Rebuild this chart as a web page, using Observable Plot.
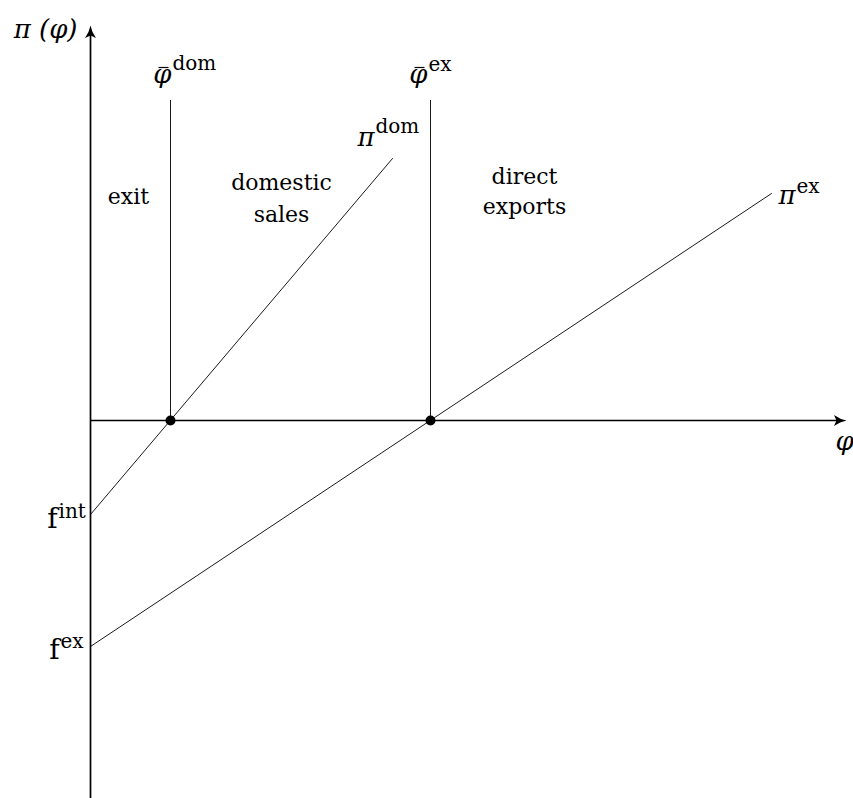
<!DOCTYPE html>
<html>
<head>
<meta charset="utf-8">
<script src="https://cdn.jsdelivr.net/npm/d3@7"></script>
<script src="https://cdn.jsdelivr.net/npm/@observablehq/plot@0.6"></script>
<style>
  html, body { margin: 0; padding: 0; background: #fff; }
  #chart svg { display: block; }
</style>
</head>
<body>
<div id="chart"></div>
<script>
// ---- data (abstract diagram units) ----
const phiDom = 4;          // domestic cutoff
const phiEx = 17;          // export cutoff
const fInt = -4.7;         // intercept of pi^dom
const fEx = -11.3;         // intercept of pi^ex
const cutoffTop = 16;      // top of the cutoff lines
const piDomLine = [{phi: 0, pi: -4.7}, {phi: 15.1, pi: 13.1}];
const piExLine = [{phi: 0, pi: -11.3}, {phi: 34.05, pi: 11.35}];
const xAxisRange = [0, 37.8];
const yAxisRange = [-18.9, 19.75];
const cutoffs = [phiDom, phiEx];
const regionLabels = ["exit", "domestic\nsales", "direct\nexports"];
const yAxisLabel = "π (φ)";
const xAxisLabel = "φ";

// ---- drawing ----
const serif = "DejaVu Serif";

// arrow head with tip at origin, pointing up
const arrowHead = {
  draw(ctx) {
    ctx.moveTo(0, 0);
    ctx.quadraticCurveTo(1.2, 6.5, 5.5, 12.5);
    ctx.lineTo(0, 10);
    ctx.lineTo(-5.5, 12.5);
    ctx.quadraticCurveTo(-1.2, 6.5, 0, 0);
    ctx.closePath();
  }
};
// short horizontal bar (accent over phi)
const barSymbol = {
  draw(ctx) {
    ctx.moveTo(-5, -0.6);
    ctx.lineTo(5, -0.6);
    ctx.lineTo(5, 0.6);
    ctx.lineTo(-5, 0.6);
    ctx.closePath();
  }
};

function supLabel(x, y, base, sup, dx, dyB, dyS, opts = {}) {
  const marks = [
    Plot.text([base], {
      x: () => x, y: () => y, text: d => d,
      textAnchor: "end", lineAnchor: "bottom", dx, dy: dyB,
      fontSize: opts.baseSize ?? 26, fontStyle: opts.italic === false ? "normal" : "italic",
      fontFamily: serif, fill: "black"
    }),
    Plot.text([sup], {
      x: () => x, y: () => y, text: d => d,
      textAnchor: "start", lineAnchor: "bottom", dx: dx + 1, dy: dyS,
      fontSize: 20, fontFamily: serif, fill: "black"
    })
  ];
  if (opts.bar) {
    marks.push(Plot.dot([0], {
      x: () => x, y: () => y, symbol: barSymbol, r: 3,
      dx: dx - 8, dy: dyB - 15, fill: "black", stroke: null
    }));
  }
  return marks;
}

const domEnd = piDomLine[piDomLine.length - 1];
const exEnd = piExLine[piExLine.length - 1];

const chart = Plot.plot({
  width: 853,
  height: 798,
  margin: 0,
  x: {domain: [-4.5, 38.15], axis: null},
  y: {domain: [-18.9, 21], axis: null},
  style: {background: "white", fontFamily: serif},
  marks: [
    // profit lines
    Plot.line(piDomLine, {x: "phi", y: "pi", stroke: "black", strokeWidth: 0.9}),
    Plot.line(piExLine, {x: "phi", y: "pi", stroke: "black", strokeWidth: 0.9}),
    // cutoff lines
    Plot.ruleX(cutoffs, {y1: 0, y2: cutoffTop, stroke: "black", strokeWidth: 0.9}),
    // axes
    Plot.ruleY([0], {x1: xAxisRange[0], x2: xAxisRange[1] - 0.3, stroke: "black", strokeWidth: 1.7}),
    Plot.ruleX([0], {y1: yAxisRange[0], y2: yAxisRange[1] - 0.3, stroke: "black", strokeWidth: 1.7}),
    Plot.dot([0], {x: () => xAxisRange[1], y: () => 0, symbol: arrowHead, r: 5, fill: "black", stroke: null, rotate: 90}),
    Plot.dot([0], {x: () => 0, y: () => yAxisRange[1], symbol: arrowHead, r: 5, fill: "black", stroke: null, rotate: 0}),
    // cutoff points
    Plot.dot(cutoffs, {x: d => d, y: () => 0, r: 5, fill: "black", stroke: null}),
    // axis labels
    Plot.text([yAxisLabel], {x: () => 0, y: () => yAxisRange[1], text: d => d, textAnchor: "end",
      lineAnchor: "bottom", dx: -13, dy: 12, fontSize: 26, fontStyle: "italic", fontFamily: serif}),
    Plot.text([xAxisLabel], {x: () => xAxisRange[1], y: () => 0, text: d => d, textAnchor: "middle",
      lineAnchor: "bottom", dx: -2, dy: 29, fontSize: 26, fontStyle: "italic", fontFamily: serif}),
    // symbol labels
    ...supLabel(phiDom, cutoffTop, "φ", "dom", 1, -18, -31, {bar: true}),
    ...supLabel(phiEx, cutoffTop, "φ", "ex", -3, -18, -30, {bar: true}),
    ...supLabel(domEnd.phi, domEnd.pi, "π", "dom", -18, -13, -26),
    ...supLabel(exEnd.phi, exEnd.pi, "π", "ex", 24, 10, -1),
    ...supLabel(0, fInt, "f", "int", -33, 13, 3, {italic: false, baseSize: 28}),
    ...supLabel(0, fEx, "f", "ex", -31, 12, 1, {italic: false, baseSize: 28}),
    // region labels
    Plot.text([regionLabels[0]], {x: () => phiDom / 2, y: () => cutoffTop, text: d => d,
      textAnchor: "middle", lineAnchor: "bottom", dx: -2, dy: 103, fontSize: 22, fontFamily: serif}),
    Plot.text([regionLabels[1]], {x: () => (phiDom + phiEx) / 2, y: () => cutoffTop, text: d => d,
      textAnchor: "middle", lineAnchor: "bottom", lineHeight: 1.45, dx: -19, dy: 121, fontSize: 22, fontFamily: serif}),
    Plot.text([regionLabels[2]], {x: () => phiEx, y: () => cutoffTop, text: d => d,
      textAnchor: "middle", lineAnchor: "bottom", lineHeight: 1.36, dx: 94, dy: 113, fontSize: 22, fontFamily: serif})
  ]
});
document.getElementById("chart").appendChild(chart);
</script>
</body>
</html>
